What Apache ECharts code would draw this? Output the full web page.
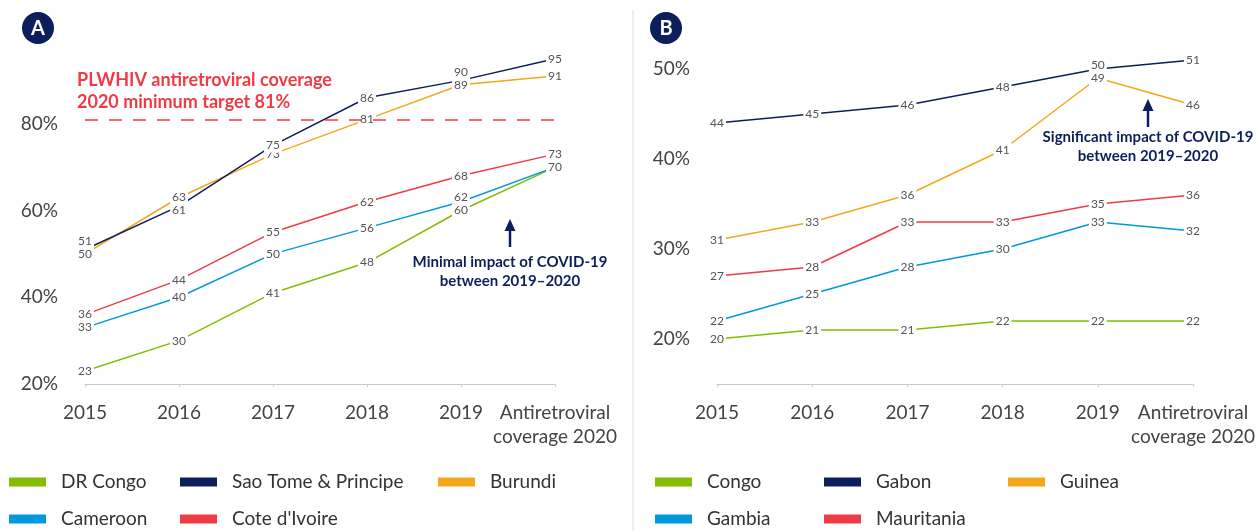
<!DOCTYPE html>
<html>
<head>
<meta charset="utf-8">
<script src="https://cdn.jsdelivr.net/npm/echarts@6/dist/echarts.min.js"></script>
<style>
  html, body { margin: 0; padding: 0; background: #fff; }
  #chart { width: 1258px; height: 531px; }
</style>
</head>
<body>
<div id="chart"></div>
<script>
// categories
const years = ['2015', '2016', '2017', '2018', '2019', 'Antiretroviral\ncoverage 2020'];

// panel A
const drCongo = [23, 30, 41, 48, 60, 70];
const saoTome = [51, 61, 75, 86, 90, 95];
const burundi = [50, 63, 73, 81, 89, 91];
const cameroon = [33, 40, 50, 56, 62, 70];
const coteIvoire = [36, 44, 55, 62, 68, 73];
const targetA = 81;

// panel B
const congo = [20, 21, 21, 22, 22, 22];
const gabon = [44, 45, 46, 48, 50, 51];
const guinea = [31, 33, 36, 41, 49, 46];
const gambia = [22, 25, 28, 30, 33, 32];
const mauritania = [27, 28, 33, 33, 35, 36];

const C = {
  green: '#84bd00',
  navy: '#0c1f5c',
  orange: '#f5a71c',
  blue: '#0099dc',
  red: '#ef3b45'
};
const FONT = 'Lato';

// label nudges (index -> [dx, dy]) so labels don't sit on top of each other
const nudges = {
  'Sao Tome & Principe': { 0: [0, -8], 1: [0, 4], 4: [0, -8] },
  'Cameroon': { 4: [0, -5] },
  'Gabon': { 4: [0, -4] }
};

function line(name, values, color, idx) {
  const nd = nudges[name] || {};
  return {
    name: name,
    type: 'line',
    xAxisIndex: idx,
    yAxisIndex: idx,
    data: values.map((v, i) => nd[i] ? { value: v, label: { offset: nd[i] } } : v),
    symbol: 'circle',
    symbolSize: 1,
    lineStyle: { color: color, width: 1.5 },
    itemStyle: { color: color },
    label: {
      show: true,
      position: 'inside',
      color: '#555',
      fontFamily: FONT,
      fontSize: 12,
      backgroundColor: '#fff',
      padding: [1, 2]
    },
    emphasis: { disabled: true }
  };
}

function xAxis(idx) {
  return {
    type: 'category',
    gridIndex: idx,
    data: years,
    boundaryGap: false,
    axisLine: { lineStyle: { color: '#c8c8c8', width: 1 } },
    axisTick: { show: true, length: 3, lineStyle: { color: '#d0d0d0' } },
    axisLabel: {
      color: '#444',
      fontFamily: FONT,
      fontSize: 19,
      lineHeight: 24,
      margin: 17,
      interval: 0
    }
  };
}

function yAxis(idx, min, max, interval, step) {
  return {
    type: 'value',
    gridIndex: idx,
    min: min,
    max: max,
    interval: interval,
    axisLine: { show: false },
    axisTick: { show: false },
    splitLine: { show: false },
    axisLabel: {
      color: '#444',
      fontFamily: FONT,
      fontSize: 19,
      margin: 27,
      formatter: v => (v % step === 0 && v < max) ? v + '%' : ''
    }
  };
}

function legendItem(name, color, left, top) {
  return {
    data: [{ name: name, itemStyle: { color: color } }],
    left: left,
    top: top,
    padding: 0,
    icon: 'rect',
    itemWidth: 37,
    itemHeight: 9,
    selectedMode: false,
    textStyle: {
      color: '#333',
      fontFamily: FONT,
      fontSize: 19,
      lineHeight: 24,
      padding: [0, 0, 0, 10]
    }
  };
}

const seriesA = [
  line('DR Congo', drCongo, C.green, 0),
  line('Cameroon', cameroon, C.blue, 0),
  line("Cote d'Ivoire", coteIvoire, C.red, 0),
  line('Burundi', burundi, C.orange, 0),
  line('Sao Tome & Principe', saoTome, C.navy, 0)
];
seriesA[0].markLine = {
  silent: true,
  symbol: 'none',
  label: { show: false },
  lineStyle: { color: C.red, type: [13, 11], width: 1.5 },
  data: [{ yAxis: targetA }]
};

const seriesB = [
  line('Congo', congo, C.green, 1),
  line('Gambia', gambia, C.blue, 1),
  line('Mauritania', mauritania, C.red, 1),
  line('Guinea', guinea, C.orange, 1),
  line('Gabon', gabon, C.navy, 1)
];

const chart = echarts.init(document.getElementById('chart'), null, { renderer: 'canvas' });
chart.setOption({
  animation: false,
  backgroundColor: '#fff',
  grid: [
    { left: 85, top: 37, width: 470, height: 347 },
    { left: 717, top: 24, width: 481, height: 360 }
  ],
  xAxis: [xAxis(0), xAxis(1)],
  yAxis: [yAxis(0, 20, 100, 20, 20), yAxis(1, 15, 55, 5, 10)],
  legend: [
    legendItem('DR Congo', C.green, 9, 470),
    legendItem('Sao Tome & Principe', C.navy, 180, 470),
    legendItem('Burundi', C.orange, 438, 470),
    legendItem('Cameroon', C.blue, 9, 507),
    legendItem("Cote d'Ivoire", C.red, 180, 507),
    legendItem('Congo', C.green, 655, 470),
    legendItem('Gabon', C.navy, 824, 470),
    legendItem('Guinea', C.orange, 1008, 470),
    legendItem('Gambia', C.blue, 655, 507),
    legendItem('Mauritania', C.red, 824, 507)
  ],
  series: seriesA.concat(seriesB),
  graphic: [
    // divider
    { type: 'line', shape: { x1: 633, y1: 10, x2: 633, y2: 531 }, style: { stroke: '#dcdcdc', lineWidth: 1 } },
    // panel badges
    { type: 'circle', shape: { cx: 38, cy: 28, r: 16 }, style: { fill: C.navy } },
    { type: 'text', x: 38, y: 29, style: { text: 'A', fill: '#fff', font: 'bold 20px ' + FONT, align: 'center', verticalAlign: 'middle' } },
    { type: 'circle', shape: { cx: 666, cy: 28, r: 16 }, style: { fill: C.navy } },
    { type: 'text', x: 666, y: 29, style: { text: 'B', fill: '#fff', font: 'bold 20px ' + FONT, align: 'center', verticalAlign: 'middle' } },
    // target note
    { type: 'text', x: 77, y: 69, style: { text: 'PLWHIV antiretroviral coverage\n2020 minimum target 81%', fill: C.red, font: 'bold 18px ' + FONT, lineHeight: 22 } },
    // panel A note
    { type: 'line', shape: { x1: 510, y1: 247, x2: 510, y2: 228 }, style: { stroke: C.navy, lineWidth: 2.5 } },
    { type: 'polygon', shape: { points: [[510, 219], [504.5, 231], [515.5, 231]] }, style: { fill: C.navy } },
    { type: 'text', x: 510, y: 253, style: { text: 'Minimal impact of COVID-19\nbetween 2019–2020', fill: C.navy, font: 'bold 15px ' + FONT, lineHeight: 19, align: 'center' } },
    // panel B note
    { type: 'line', shape: { x1: 1148, y1: 127, x2: 1148, y2: 108 }, style: { stroke: C.navy, lineWidth: 2.5 } },
    { type: 'polygon', shape: { points: [[1148, 99], [1142.5, 111], [1153.5, 111]] }, style: { fill: C.navy } },
    { type: 'text', x: 1148, y: 128, style: { text: 'Significant impact of COVID-19\nbetween 2019–2020', fill: C.navy, font: 'bold 15px ' + FONT, lineHeight: 19, align: 'center' } }
  ]
});
</script>
</body>
</html>
